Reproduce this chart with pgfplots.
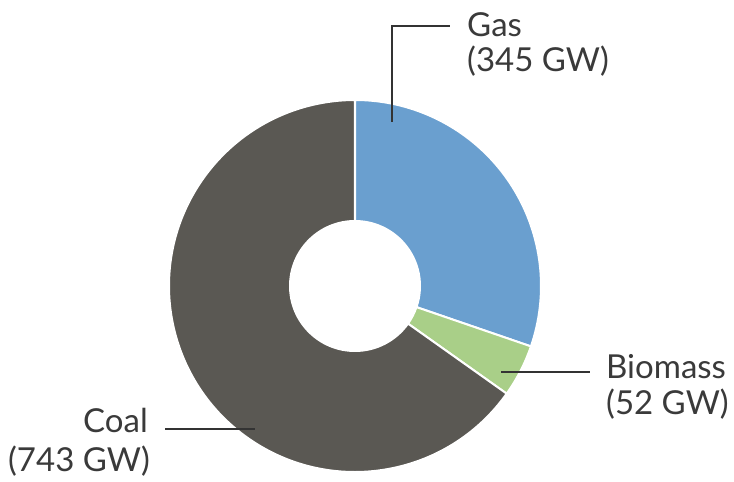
\documentclass[border=0pt]{standalone}
\usepackage{pgfplots}
\usepackage{pgfplotstable}
\pgfplotsset{compat=1.18}
\usepackage{fontspec}
\setmainfont{Lato}
\definecolor{gascol}{HTML}{6A9FCF}
\definecolor{biocol}{HTML}{A9CF88}
\definecolor{coalcol}{HTML}{5A5853}
\definecolor{txt}{HTML}{3A3A3A}
\definecolor{lead}{HTML}{333333}

\pgfplotstableread{
label value
Gas 345
Biomass 52
Coal 743
}\datatable
\pgfplotstablegetelem{0}{value}\of\datatable \let\vGas\pgfplotsretval
\pgfplotstablegetelem{1}{value}\of\datatable \let\vBio\pgfplotsretval
\pgfplotstablegetelem{2}{value}\of\datatable \let\vCoal\pgfplotsretval
\pgfmathsetmacro\tot{\vGas+\vBio+\vCoal}
\pgfmathsetmacro\aA{90}
\pgfmathsetmacro\aB{\aA-\vGas/\tot*360}
\pgfmathsetmacro\aC{\aB-\vBio/\tot*360}
\pgfmathsetmacro\aD{\aC-\vCoal/\tot*360}
\def\cx{355}\def\cy{196}
\def\Ro{186pt}\def\Ri{65pt}
\newcommand\donutslice[3]{%
 \fill[#3, draw=white, line width=2pt, line join=round]
  ([shift={(#1:\Ro)}]axis cs:\cx,\cy) arc[start angle=#1, end angle=#2, radius=\Ro]
  -- ([shift={(#2:\Ri)}]axis cs:\cx,\cy) arc[start angle=#2, end angle=#1, radius=\Ri] -- cycle;}

\begin{document}
\begin{tikzpicture}
\useasboundingbox (0,0) rectangle (734pt,482pt);
\begin{axis}[
  at={(0,0)}, anchor=origin,
  x=1pt, y=1pt,
  xmin=0, xmax=734, ymin=0, ymax=482,
  hide axis, clip=false,
]
\donutslice{\aA}{\aB}{gascol}
\donutslice{\aB}{\aC}{biocol}
\donutslice{\aC}{\aD}{coalcol}
\addplot[lead, line width=1.5pt, no marks] coordinates {(392,360) (392,456) (450,456)};
\addplot[lead, line width=1.5pt, no marks] coordinates {(501,110) (590,110)};
\addplot[lead, line width=1.5pt, no marks] coordinates {(165,53) (255,53)};
\begin{scope}[every node/.style={text=txt, font=\fontsize{33}{36}\selectfont, inner sep=0pt}]
\node[anchor=base west] at (axis cs:467,445) {Gas};
\node[anchor=base west] at (axis cs:467,410) {(345 GW)};
\node[anchor=base west] at (axis cs:606,103) {Biomass};
\node[anchor=base west] at (axis cs:606,67) {(52 GW)};
\node[anchor=base east] at (axis cs:148,49) {Coal};
\node[anchor=base east] at (axis cs:150,10) {(743 GW)};
\end{scope}
\end{axis}
\end{tikzpicture}
\end{document}
